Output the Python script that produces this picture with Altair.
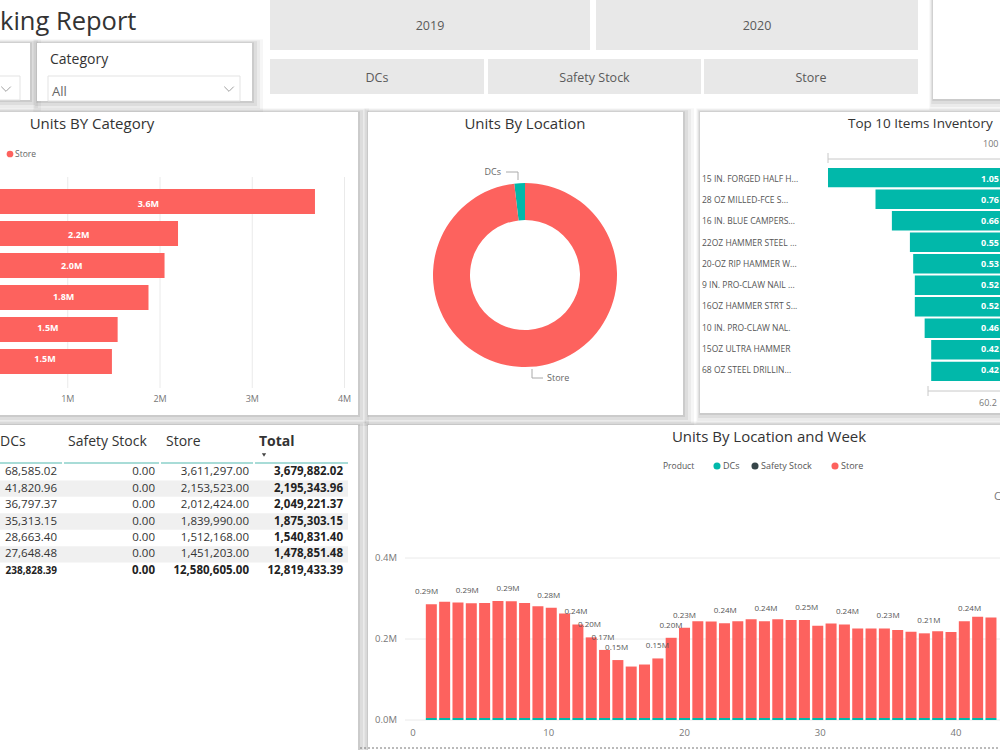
import altair as alt
import pandas as pd

FONT = "Open Sans"
TEAL, DARK, RED = "#01B8AA", "#374649", "#FD625E"

# ---------------- data ----------------
report_title = "king Report"
year_buttons = ["2019", "2020"]
location_names = ["DCs", "Safety Stock", "Store"]
location_colors = [TEAL, DARK, RED]

category_names = ["Category 1", "Category 2", "Category 3", "Category 4", "Category 5", "Category 6"]
category_dcs = [68585.02, 41820.96, 36797.37, 35313.15, 28663.40, 27648.48]
category_safety = [0.00, 0.00, 0.00, 0.00, 0.00, 0.00]
category_store = [3611297.00, 2153523.00, 2012424.00, 1839990.00, 1512168.00, 1451203.00]
category_ticks = [1000000, 2000000, 3000000, 4000000]
category_tick_labels = ["1M", "2M", "3M", "4M"]

location_totals = [238828.39, 0.00, 12580605.00]

top_items = ["15 IN. FORGED HALF H...", "28 OZ MILLED-FCE S...", "16 IN. BLUE CAMPERS...",
             "22OZ HAMMER STEEL ...", "20-OZ RIP HAMMER W...", "9 IN. PRO-CLAW NAIL ...",
             "16OZ HAMMER STRT S...", "10 IN. PRO-CLAW NAL.", "15OZ ULTRA HAMMER",
             "68 OZ STEEL DRILLIN..."]
top_values = [1.05, 0.76, 0.66, 0.55, 0.53, 0.52, 0.52, 0.46, 0.42, 0.42]

table_columns = ["DCs", "Safety Stock", "Store", "Total"]
table_total_row = [238828.39, 0.00, 12580605.00, 12819433.39]

weeks = list(range(1, 44))
week_store_k = [281, 287, 285, 283, 284, 289, 288, 284, 276, 272, 258, 231, 199, 168, 143,
                127, 132, 147, 198, 223, 239, 238, 234, 239, 244, 239, 244, 242, 242, 228,
                233, 231, 221, 221, 221, 217, 213, 209, 214, 212, 239, 250, 248]
week_dcs_k = [5, 5, 5, 5, 5, 5, 5, 5, 5, 5, 5, 5, 5, 5, 5, 5, 5, 5, 5, 5, 5, 5,
              5, 5, 5, 5, 5, 5, 5, 5, 5, 5, 5, 5, 5, 5, 5, 5, 5, 5, 5, 5, 5]
week_safety_k = [0, 0, 0, 0, 0, 0, 0, 0, 0, 0, 0, 0, 0, 0, 0, 0, 0, 0, 0, 0, 0, 0,
                 0, 0, 0, 0, 0, 0, 0, 0, 0, 0, 0, 0, 0, 0, 0, 0, 0, 0, 0, 0, 0]
week_labelled = [1, 4, 7, 10, 12, 13, 14, 15, 18, 19, 20, 23, 26, 29, 32, 35, 38, 41]
week_ticks = [0, 10, 20, 30, 40]
units_ticks = [0, 200000, 400000]
units_tick_labels = ["0.0M", "0.2M", "0.4M"]

# ---------------- helpers ----------------
ONE = pd.DataFrame({"k": [0]})


def txt(t, x, y, size=12, color="#333333", align="left", weight="normal", baseline="middle"):
    return alt.Chart(ONE).mark_text(align=align, baseline=baseline, fontSize=size, color=color,
                                    fontWeight=weight, font=FONT).encode(
        x=alt.value(x), y=alt.value(y), text=alt.value(t))


def box(x0, x1, y0, y1, fill="white", stroke=None, opacity=1.0):
    kw = dict(fill=fill, fillOpacity=opacity)
    if stroke:
        kw.update(stroke=stroke, strokeWidth=1)
    return alt.Chart(ONE).mark_rect(**kw).encode(
        x=alt.value(x0), x2=alt.value(x1), y=alt.value(y0), y2=alt.value(y1))


def seg(x0, y0, x1, y1, color="#c8c8c8", width=1, dash=None):
    kw = dict(color=color, strokeWidth=width)
    if dash:
        kw["strokeDash"] = dash
    return alt.Chart(ONE).mark_rule(**kw).encode(
        x=alt.value(x0), y=alt.value(y0), x2=alt.value(x1), y2=alt.value(y1))


def shadow(x0, x1, y0, y1):
    out = []
    for d, op in [(11, 0.035), (8, 0.045), (5, 0.06), (2, 0.08)]:
        out.append(box(x0 - d / 3, x1 + d, y0 - d / 3, y1 + d, fill="#000000", opacity=op))
    return out


def chevron(x, y):
    return alt.Chart(ONE).mark_point(shape="M -1 -0.5 L 0 0.5 L 1 -0.5", filled=False, size=90,
                                     color="#777777", strokeWidth=1).encode(
        x=alt.value(x), y=alt.value(y))


def dot(x, y, color, size=55):
    return alt.Chart(ONE).mark_circle(size=size, color=color, opacity=1).encode(
        x=alt.value(x), y=alt.value(y))


loc_color = alt.Color("location:N", scale=alt.Scale(domain=location_names, range=location_colors),
                      legend=None)

layers = []

# ---------------- panels ----------------
panels = [
    (-10, 358, 112, 415),   # category
    (368, 683, 112, 415),   # donut
    (700, 1010, 112, 413),  # top 10
    (-10, 358, 425, 760),   # table
    (368, 1010, 425, 760),  # week
    (-10, 30, 43, 100),     # slicer 1
    (37, 252, 43, 101),     # slicer 2
    (933, 1010, -10, 99),   # card
]
for p in panels:
    layers += shadow(*p)
for p in panels:
    layers.append(box(*p))

# ---------------- header ----------------
layers.append(txt(report_title, 0, 30, size=25.5, color="#333333", baseline="alphabetic"))
buttons = [(270, 590, 0, 50, year_buttons[0]), (596, 918, 0, 50, year_buttons[1]),
           (270, 484, 59, 94, location_names[0]), (488, 701, 59, 94, location_names[1]),
           (704, 918, 59, 94, location_names[2])]
for x0, x1, y0, y1, lab in buttons:
    layers.append(box(x0, x1, y0, y1, fill="#E8E8E8"))
    layers.append(txt(lab, (x0 + x1) / 2, (y0 + y1) / 2 + 1, size=12.5, color="#5A5A5A", align="center"))

# slicers
layers.append(box(-10, 20, 76, 100, fill="white", stroke="#E3E3E3"))
layers.append(chevron(6, 89))
layers.append(txt("Category", 50, 60, size=14, color="#333333"))
layers.append(box(48, 240, 76, 101, fill="white", stroke="#E3E3E3"))
layers.append(txt("All", 52, 92, size=13, color="#666666"))
layers.append(chevron(229, 89))

# ---------------- Units BY Category ----------------
cat_rows = []
for i, c in enumerate(category_names):
    for j, (loc, vals) in enumerate(zip(location_names, [category_dcs, category_safety, category_store])):
        cat_rows.append({"category": c, "location": loc, "units": vals[i], "ord": j})
cat_long = pd.DataFrame(cat_rows)
cat_wide = pd.DataFrame({
    "category": category_names,
    "mid": [d + s / 2 for d, s in zip(category_dcs, category_store)],
    "lab": [f"{s / 1e6:.1f}M" for s in category_store],
})
cat_y = alt.Scale(domain=category_names, range=[189, 374], paddingInner=0.22, paddingOuter=0)
cat_x = alt.Scale(domain=[0, 4000000], range=[-24.5, 344.5], nice=False)
cat_tick_df = pd.DataFrame({"v": category_ticks, "lab": category_tick_labels})

layers.append(txt("Units BY Category", 92, 124, size=15, color="#333333", align="center"))
layers.append(dot(10, 154, RED, size=45))
layers.append(txt("Store", 15, 154, size=8.5, color="#666666"))
layers.append(alt.Chart(cat_tick_df).mark_rule(color="#EAEAEA", strokeWidth=1).encode(
    x=alt.X("v:Q", scale=cat_x, axis=None), y=alt.value(177), y2=alt.value(388)))
layers.append(alt.Chart(cat_long).mark_bar().encode(
    y=alt.Y("category:N", scale=cat_y, axis=None),
    x=alt.X("units:Q", stack="zero", scale=cat_x, axis=None),
    color=loc_color,
    order=alt.Order("ord:Q"),
))
layers.append(alt.Chart(cat_wide).mark_text(color="white", fontWeight="bold", fontSize=9, font=FONT).encode(
    y=alt.Y("category:N", scale=cat_y, axis=None),
    x=alt.X("mid:Q", scale=cat_x, axis=None),
    text="lab:N"))
layers.append(alt.Chart(cat_tick_df).mark_text(color="#777777", fontSize=9, font=FONT).encode(
    x=alt.X("v:Q", scale=cat_x, axis=None), y=alt.value(399), text="lab:N"))

# ---------------- Units By Location (donut) ----------------
loc_df = pd.DataFrame({"location": location_names, "units": location_totals, "ord": [1, 2, 0]})
layers.append(txt("Units By Location", 525, 124, size=15, color="#333333", align="center"))
layers.append(alt.Chart(loc_df).mark_arc(radius=92, innerRadius=55).encode(
    theta=alt.Theta("units:Q", stack=True),
    color=loc_color,
    order=alt.Order("ord:Q"),
    x=alt.value(525), y=alt.value(275)))
layers.append(seg(506, 172, 518, 172, color="#AAAAAA"))
layers.append(seg(518, 172, 518, 180, color="#AAAAAA"))
layers.append(txt("DCs", 501, 172, size=9, color="#666666", align="right"))
layers.append(seg(532, 369, 532, 378, color="#AAAAAA"))
layers.append(seg(532, 378, 543, 378, color="#AAAAAA"))
layers.append(txt("Store", 547, 378, size=9, color="#666666"))

# ---------------- Top 10 ----------------
top_df = pd.DataFrame({"item": top_items, "value": top_values, "lab": [f"{v:.2f}" for v in top_values]})
top_y = alt.Scale(domain=top_items, range=[168, 381], paddingInner=0.1, paddingOuter=0)
top_x = alt.Scale(domain=[0, 1.05], range=[1000, 828], nice=False)
layers.append(txt("Top 10 Items Inventory", 848, 124, size=13.5, color="#333333"))
layers.append(txt("100", 983, 144, size=9, color="#777777"))
layers.append(seg(828, 159, 1000, 159, color="#C8C8C8"))
layers.append(seg(828, 153, 828, 163, color="#C8C8C8"))
layers.append(seg(928, 391, 1000, 391, color="#C8C8C8"))
layers.append(seg(928, 386, 928, 396, color="#C8C8C8"))
layers.append(txt("60.2", 979, 403, size=9, color="#777777"))
layers.append(alt.Chart(top_df).mark_bar(color=TEAL).encode(
    y=alt.Y("item:N", scale=top_y, axis=None),
    x=alt.X("value:Q", scale=top_x, axis=None)))
layers.append(alt.Chart(top_df).mark_text(align="left", fontSize=8.5, color="#555555", font=FONT).encode(
    y=alt.Y("item:N", scale=top_y, axis=None), x=alt.value(702), text="item:N"))
layers.append(alt.Chart(top_df).mark_text(align="left", fontSize=9, color="white", fontWeight="bold",
                                          font=FONT).encode(
    y=alt.Y("item:N", scale=top_y, axis=None), x=alt.value(981), text="lab:N"))

# ---------------- Table ----------------
table_rows = category_names + ["Total"]
fmt = lambda v: f"{v:,.2f}"
tbl = pd.DataFrame({
    "row": table_rows,
    "idx": list(range(len(table_rows))),
    "DCs": [fmt(v) for v in category_dcs] + [fmt(table_total_row[0])],
    "Safety Stock": [fmt(v) for v in category_safety] + [fmt(table_total_row[1])],
    "Store": [fmt(v) for v in category_store] + [fmt(table_total_row[2])],
    "Total": [fmt(d + s + st) for d, s, st in zip(category_dcs, category_safety, category_store)]
             + [fmt(table_total_row[3])],
})
tbl_y = alt.Scale(domain=table_rows, range=[464, 579], paddingInner=0, paddingOuter=0)
layers.append(alt.Chart(tbl).transform_filter("datum.idx % 2 == 1 && datum.idx < 6").mark_rect(
    fill="#F0F0F0").encode(y=alt.Y("row:N", scale=tbl_y, axis=None), x=alt.value(0), x2=alt.value(348)))
header_x = [0, 68, 166, 259]
col_right = [57, 155, 249, 343]
for name, hx in zip(table_columns, header_x):
    layers.append(txt(name, hx, 442, size=14, color="#333333",
                      weight="bold" if name == "Total" else "normal"))
layers.append(alt.Chart(ONE).mark_point(shape="triangle-down", filled=True, size=18, color="#444444",
                                        opacity=1).encode(x=alt.value(264), y=alt.value(455)))
for x0, x1 in [(0, 62), (64, 159), (161, 253), (255, 348)]:
    layers.append(seg(x0, 463, x1, 463, color="#A8DCD7", width=2))
for name, xr in zip(table_columns, col_right):
    bold_all = name == "Total"
    layers.append(alt.Chart(tbl).transform_filter("datum.idx < 6").mark_text(
        align="right", fontSize=11.5, color="#222222" if bold_all else "#333333",
        fontWeight="bold" if bold_all else "normal", font=FONT).encode(
        y=alt.Y("row:N", scale=tbl_y, axis=None), x=alt.value(xr), text=f"{name}:N"))
    layers.append(alt.Chart(tbl).transform_filter("datum.idx == 6").mark_text(
        align="right", fontSize=10 if name == "DCs" else 11.5, color="#222222", fontWeight="bold",
        font=FONT).encode(
        y=alt.Y("row:N", scale=tbl_y, axis=None), x=alt.value(xr), text=f"{name}:N"))

# ---------------- Units By Location and Week ----------------
wk_rows = []
for i, w in enumerate(weeks):
    for j, (loc, vals) in enumerate(zip(location_names, [week_dcs_k, week_safety_k, week_store_k])):
        wk_rows.append({"week": w, "location": loc, "units": vals[i] * 1000, "ord": j})
wk_long = pd.DataFrame(wk_rows)
wk_lab = pd.DataFrame({
    "week": week_labelled,
    "total": [(week_store_k[w - 1] + week_dcs_k[w - 1] + week_safety_k[w - 1]) * 1000 for w in week_labelled],
})
wk_lab["lab"] = [f"{t / 1e6:.2f}M" for t in wk_lab["total"]]
wk_x = alt.Scale(domain=[0, 40], range=[413, 956], nice=False)
wk_y = alt.Scale(domain=[0, 400000], range=[720, 558], nice=False)
wk_ytick = pd.DataFrame({"v": units_ticks, "lab": units_tick_labels})
wk_xtick = pd.DataFrame({"v": week_ticks, "lab": [str(t) for t in week_ticks]})

layers.append(txt("Units By Location and Week", 769, 437, size=15, color="#333333", align="center"))
layers.append(txt("Product", 663, 466, size=8.5, color="#555555"))
for (lx, col, lab) in [(717, TEAL, "DCs"), (755, DARK, "Safety Stock"), (835, RED, "Store")]:
    layers.append(dot(lx, 466, col, size=50))
    layers.append(txt(lab, lx + 6, 466, size=9, color="#555555"))
layers.append(txt("C", 994, 497, size=11, color="#777777"))
layers.append(alt.Chart(wk_ytick).mark_rule(color="#EAEAEA", strokeWidth=1).encode(
    y=alt.Y("v:Q", scale=wk_y, axis=None), x=alt.value(405), x2=alt.value(1000)))
layers.append(alt.Chart(wk_ytick).mark_text(align="right", fontSize=9.5, color="#777777", font=FONT).encode(
    y=alt.Y("v:Q", scale=wk_y, axis=None), x=alt.value(397), text="lab:N"))
layers.append(alt.Chart(wk_long).mark_bar(width=11).encode(
    x=alt.X("week:Q", scale=wk_x, axis=None),
    y=alt.Y("units:Q", stack="zero", scale=wk_y, axis=None),
    color=loc_color,
    order=alt.Order("ord:Q")))
layers.append(alt.Chart(wk_lab).mark_text(fontSize=8, color="#555555", dy=-12, font=FONT).encode(
    x=alt.X("week:Q", scale=wk_x, axis=None),
    y=alt.Y("total:Q", scale=wk_y, axis=None),
    text="lab:N"))
layers.append(alt.Chart(wk_xtick).mark_text(fontSize=9.5, color="#777777", font=FONT).encode(
    x=alt.X("v:Q", scale=wk_x, axis=None), y=alt.value(733), text="lab:N"))
layers.append(seg(360, 748, 1000, 748, color="#777777", width=1, dash=[2, 2]))

chart = alt.layer(*layers).resolve_scale(
    x="independent", y="independent", color="independent", theta="independent"
).properties(
    width=1000, height=750, padding=0, background="white",
    autosize=alt.AutoSizeParams(type="none"),
).configure_view(stroke=None)

chart.save("out.html", embed_options={"renderer": "svg", "actions": False})
